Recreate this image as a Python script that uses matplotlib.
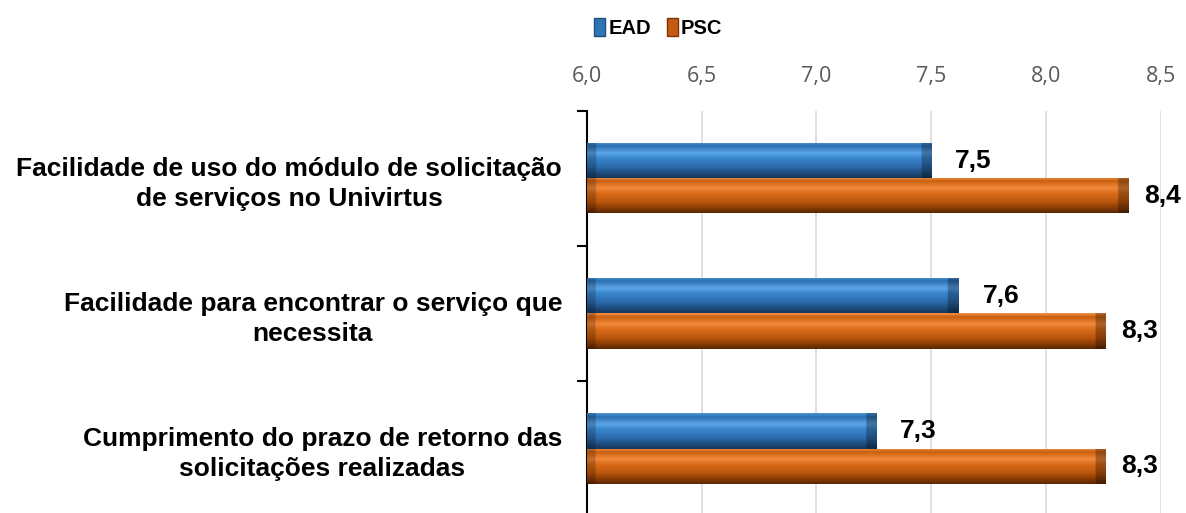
import numpy as np
import matplotlib.pyplot as plt
from matplotlib.patches import Patch
from matplotlib.colors import to_rgb

categories = [
    'Facilidade de uso do módulo de solicitação\nde serviços no Univirtus',
    'Facilidade para encontrar o serviço que\nnecessita',
    'Cumprimento do prazo de retorno das\nsolicitações realizadas',
]
ead = [7.50, 7.62, 7.26]
psc = [8.36, 8.26, 8.26]
series_names = ['EAD', 'PSC']
xticks = [6.0, 6.5, 7.0, 7.5, 8.0, 8.5]

# colour stops top -> bottom for a bevelled look
blue_stops = ['#4a95d8', '#2b6fb0', '#5aa6e8', '#3a86cf', '#2a6aa9', '#1f4e80', '#16385c']
orange_stops = ['#f39048', '#c9600f', '#f3893b', '#db6c18', '#b9540c', '#8a3c06', '#5a2704']
stop_pos = [0.0, 0.1, 0.3, 0.45, 0.7, 0.86, 1.0]


def gradient_img(stops, end_frac, nx=300, ny=60):
    t = np.linspace(0, 1, ny)
    cols = np.array([to_rgb(c) for c in stops])
    prof = np.stack([np.interp(t, stop_pos, cols[:, k]) for k in range(3)], axis=1)
    img = np.repeat(prof[:, None, :], nx, axis=1)
    # darken the ends a little
    x = np.linspace(0, 1, nx)
    shade = np.ones(nx)
    shade[x > 1 - end_frac] = 0.72
    shade[x < end_frac * 0.8] = 0.8
    return img * shade[None, :, None]


plt.rcParams['font.family'] = ['Liberation Sans', 'DejaVu Sans']
fig = plt.figure(figsize=(11.86, 5.13), dpi=100)
ax = fig.add_axes([0.495, -0.006, 0.4835, 0.79])

y = np.arange(len(categories))
h = 0.26
xmin = 6.0
bars_e = ax.barh(y - h / 2, np.array(ead) - xmin, left=xmin, height=h, color='#2e75b6', zorder=2)
bars_p = ax.barh(y + h / 2, np.array(psc) - xmin, left=xmin, height=h, color='#c55a11', zorder=2)

for bars, stops in [(bars_e, blue_stops), (bars_p, orange_stops)]:
    for b in bars:
        x0, y0, w, hh = b.get_x(), b.get_y(), b.get_width(), b.get_height()
        im = ax.imshow(gradient_img(stops, 0.045 / w), extent=[x0, x0 + w, y0 + hh, y0],
                       aspect='auto', zorder=3, interpolation='bilinear')
        im.set_clip_path(b)

for vals, off, gap in [(ead, -h / 2, 0.104), (psc, h / 2, 0.07)]:
    for i, v in enumerate(vals):
        ax.text(v + gap, i + off, f'{v:.1f}'.replace('.', ','), va='center', ha='left',
                fontsize=19, fontweight='bold', color='black', zorder=4)

ax.set_xlim(6.0, 8.5)
ax.set_ylim(2.5, -0.5)
ax.xaxis.tick_top()
ax.set_xticks(xticks)
ax.set_xticklabels([f'{t:.1f}'.replace('.', ',') for t in xticks],
                   fontsize=15.5, color='#595959', fontfamily='Open Sans')
ax.tick_params(axis='x', length=0, pad=17)
ax.grid(axis='x', color='#d9d9d9', lw=1.2, zorder=0)
ax.set_axisbelow(True)

ax.set_yticks(y)
ax.set_yticklabels(categories, fontsize=19, fontweight='bold', multialignment='center',
                   linespacing=1.3)
ax.set_yticks([-0.5, 0.5, 1.5, 2.5], minor=True)
ax.tick_params(axis='y', which='major', length=0, pad=18)
ax.tick_params(axis='y', which='minor', length=7, width=1.5, color='black', direction='out')

for s in ['top', 'right', 'bottom']:
    ax.spines[s].set_visible(False)
ax.spines['left'].set_linewidth(1.5)
ax.spines['left'].set_color('black')

handles = [Patch(facecolor='#2e75b6', edgecolor='#1f4e80'),
           Patch(facecolor='#c55a11', edgecolor='#7a3508')]
fig.legend(handles, series_names, loc='center', bbox_to_anchor=(0.555, 0.945), ncol=2,
           frameon=False, prop={'weight': 'bold', 'size': 14.5}, handlelength=0.55,
           handleheight=1.0, handletextpad=0.15, columnspacing=0.8)

fig.savefig('out.png', dpi=100)
